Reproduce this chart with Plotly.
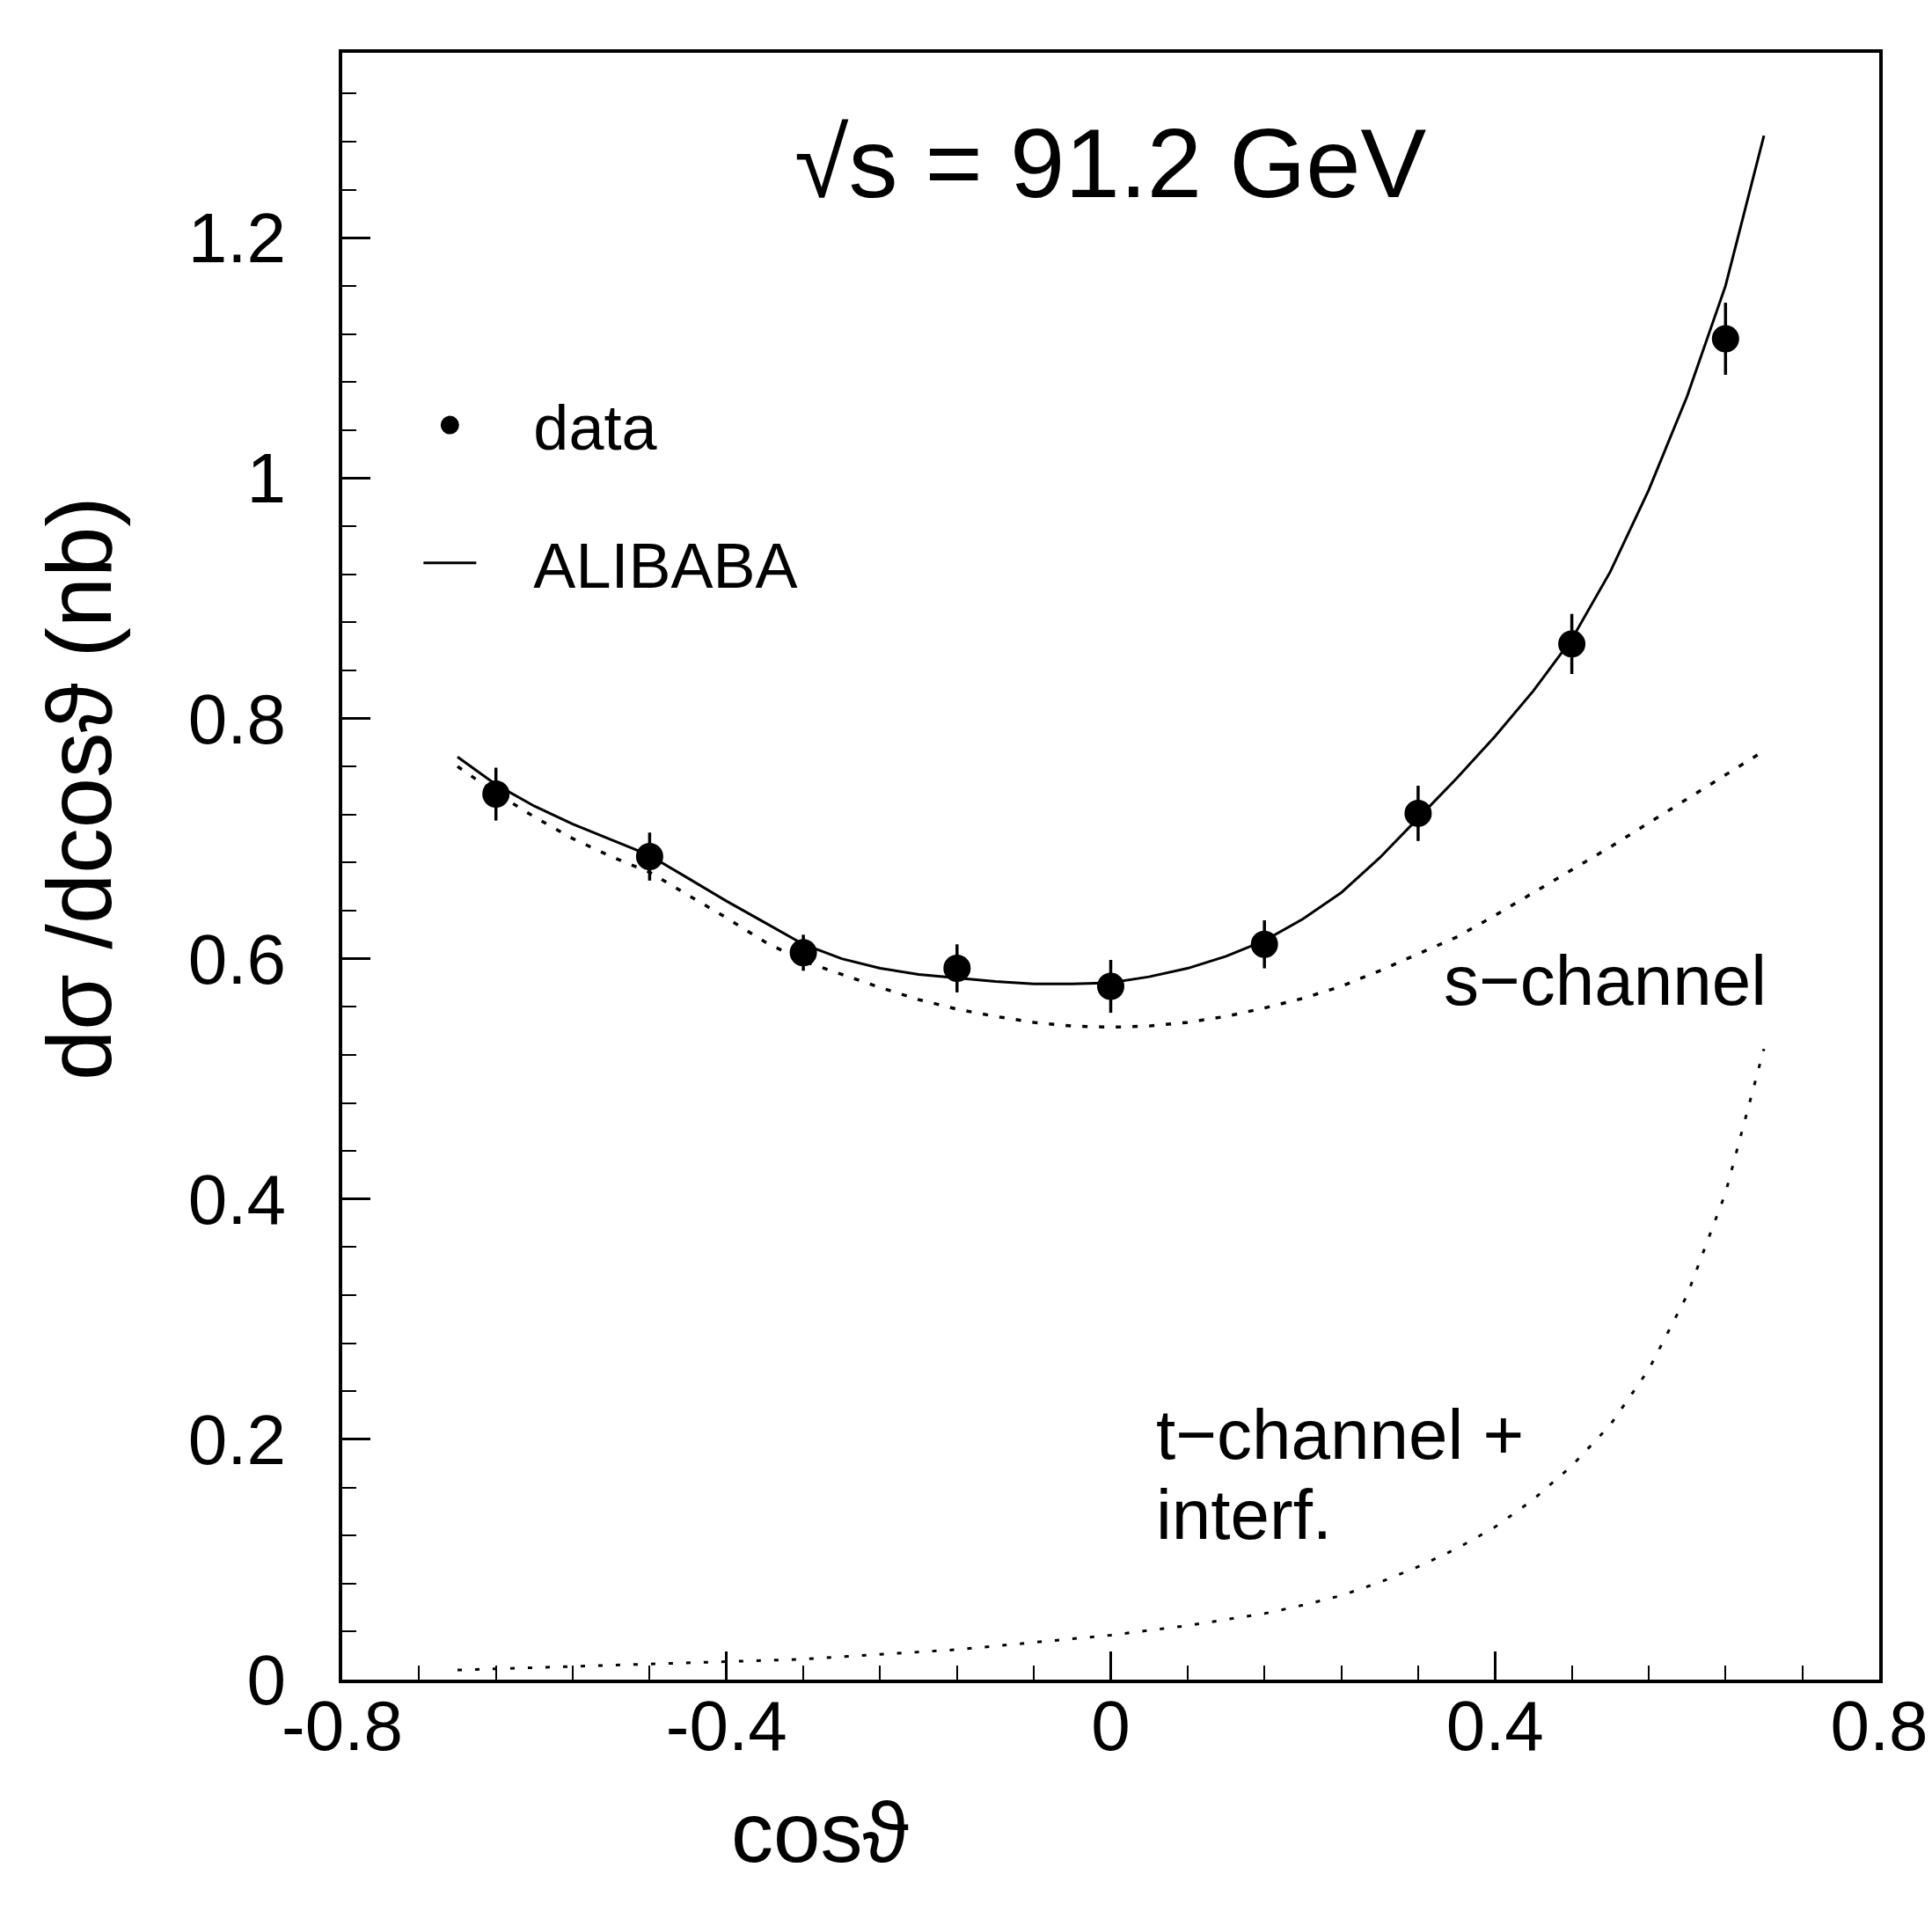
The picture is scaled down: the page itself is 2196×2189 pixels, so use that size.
import plotly.graph_objects as go

# ---- data ----
cos_bins = [-0.64, -0.48, -0.32, -0.16, 0.0, 0.16, 0.32, 0.48, 0.64]
data_xsec = [0.737, 0.685, 0.605, 0.592, 0.577, 0.612, 0.721, 0.862, 1.116]
data_err = [0.022, 0.020, 0.015, 0.020, 0.022, 0.020, 0.023, 0.025, 0.030]

curve_x = [-0.68, -0.64, -0.60, -0.56, -0.52, -0.48, -0.44, -0.40, -0.36, -0.32,
           -0.28, -0.24, -0.20, -0.16, -0.12, -0.08, -0.04, 0.00, 0.04, 0.08,
           0.12, 0.16, 0.20, 0.24, 0.28, 0.32, 0.36, 0.40, 0.44, 0.48,
           0.52, 0.56, 0.60, 0.64, 0.68]
alibaba = [0.768, 0.745, 0.727, 0.712, 0.699, 0.686, 0.667, 0.648, 0.630, 0.612,
           0.600, 0.592, 0.587, 0.584, 0.581, 0.579, 0.579, 0.580, 0.585, 0.592,
           0.602, 0.615, 0.633, 0.655, 0.684, 0.717, 0.750, 0.785, 0.823, 0.866,
           0.922, 0.990, 1.068, 1.160, 1.285]
s_channel = [0.760, 0.738, 0.718, 0.700, 0.685, 0.672, 0.653, 0.634, 0.614, 0.598,
             0.587, 0.576, 0.566, 0.558, 0.552, 0.547, 0.544, 0.543, 0.544, 0.547,
             0.552, 0.559, 0.567, 0.577, 0.590, 0.604, 0.618, 0.636, 0.655, 0.674,
             0.693, 0.713, 0.733, 0.753, 0.773]
t_channel = [0.008, 0.009, 0.010, 0.011, 0.012, 0.013, 0.014, 0.015, 0.016, 0.017,
             0.019, 0.021, 0.023, 0.025, 0.028, 0.031, 0.034, 0.037, 0.041, 0.045,
             0.050, 0.055, 0.062, 0.070, 0.081, 0.094, 0.109, 0.127, 0.150, 0.178,
             0.212, 0.258, 0.320, 0.405, 0.525]

x_ticks = [-0.8, -0.4, 0.0, 0.4, 0.8]
x_ticktext = ["-0.8", "-0.4", "0", "0.4", "0.8"]
y_ticks = [0, 0.2, 0.4, 0.6, 0.8, 1.0, 1.2]
y_ticktext = ["0", "0.2", "0.4", "0.6", "0.8", "1", "1.2"]

FONT = "Liberation Sans"
NB = "\u00a0"

fig = go.Figure()

fig.add_trace(go.Scatter(
    x=curve_x, y=s_channel, mode="lines", showlegend=False,
    line=dict(color="black", width=3.5, dash="6px,13px"), name="s-channel"))
fig.add_trace(go.Scatter(
    x=curve_x, y=t_channel, mode="lines", showlegend=False,
    line=dict(color="black", width=3, dash="5px,15px"), name="t-channel + interf."))
fig.add_trace(go.Scatter(
    x=cos_bins, y=data_xsec, mode="markers", name=NB * 3 + "data", legendgroup="a",
    marker=dict(color="black", size=26, symbol="circle",
                line=dict(color="black", width=5)),
    error_y=dict(type="data", array=data_err, thickness=3.5, width=0, color="black")))
fig.add_trace(go.Scatter(
    x=curve_x, y=alibaba, mode="lines", name=NB * 3 + "ALIBABA", legendgroup="b",
    line=dict(color="black", width=3)))

axis_common = dict(
    showgrid=False, zeroline=False, showline=True, linecolor="black",
    linewidth=4, mirror=True, ticks="inside", tickcolor="black",
    tickwidth=3, ticklen=32,
    tickfont=dict(family=FONT, size=80, color="black"),
)

fig.update_xaxes(
    range=[-0.8, 0.8], tickvals=x_ticks, ticktext=x_ticktext,
    minor=dict(dtick=0.08, tick0=0, ticks="inside", ticklen=16, tickwidth=2, tickcolor="black"),
    ticklabelstandoff=-20, **axis_common)
fig.update_yaxes(
    range=[0, 1.354], tickvals=y_ticks, ticktext=y_ticktext,
    minor=dict(dtick=0.04, tick0=0, ticks="inside", ticklen=16, tickwidth=2, tickcolor="black"),
    ticklabelstandoff=44, **axis_common)

ann_font = dict(family=FONT, size=80, color="black")
fig.add_annotation(x=0.0, y=1.262, xref="x", yref="y", text="√s = 91.2 GeV",
                   showarrow=False, font=dict(family=FONT, size=112, color="black"))
fig.add_annotation(x=0.345, y=0.582, xref="x", yref="y", text="s−channel",
                   showarrow=False, xanchor="left", font=ann_font)
fig.add_annotation(x=0.045, y=0.204, xref="x", yref="y", text="t−channel +",
                   showarrow=False, xanchor="left", font=ann_font)
fig.add_annotation(x=0.045, y=0.137, xref="x", yref="y", text="interf.",
                   showarrow=False, xanchor="left", font=ann_font)
fig.add_annotation(x=-0.205, y=0.548, xref="paper", yref="paper",
                   text="dσ /dcosϑ (nb)", textangle=-90, showarrow=False,
                   font=dict(family=FONT, size=103, color="black"))
fig.add_annotation(x=0.252, y=-0.124, xref="paper", yref="paper",
                   text="cosϑ", showarrow=False,
                   font=dict(family=FONT, size=96, color="black"))

fig.update_layout(
    width=2196, height=2189,
    margin=dict(l=381, r=60, t=52, b=288),
    paper_bgcolor="white", plot_bgcolor="white",
    showlegend=True,
    legend=dict(x=0.050, y=0.800, xanchor="left", yanchor="top",
                font=dict(family=FONT, size=72, color="black"),
                bgcolor="rgba(0,0,0,0)", tracegroupgap=60,
                itemwidth=60),
)

fig.write_html("out.html")
